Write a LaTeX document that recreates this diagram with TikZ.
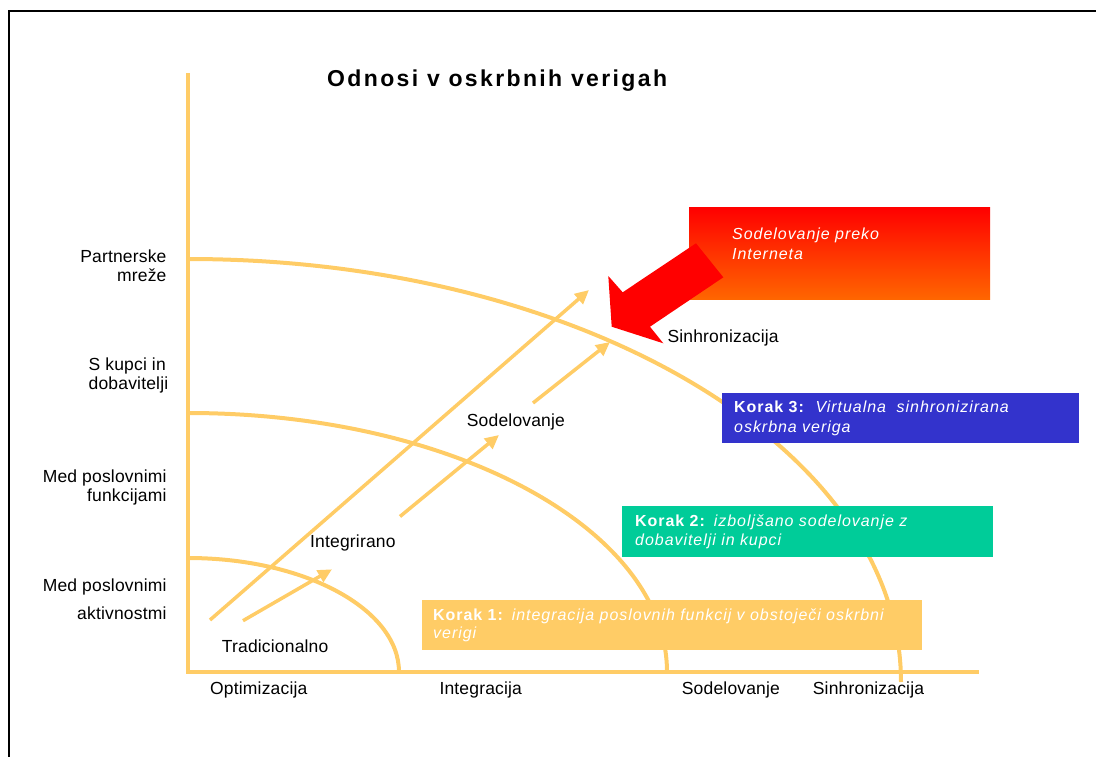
\documentclass[tikz,border=0pt]{standalone}
\usepackage{fontspec}
\setmainfont{Liberation Sans}
\newfontfamily\titlefont[LetterSpace=10.3]{Liberation Sans}
\newfontfamily\labelfont[LetterSpace=1]{Liberation Sans}
\newfontfamily\boxfont[LetterSpace=6]{Liberation Sans}
\usetikzlibrary{arrows.meta}
\definecolor{gold}{RGB}{255,204,102}
\definecolor{stepgreen}{RGB}{0,204,153}
\definecolor{stepblue}{RGB}{51,51,204}
\definecolor{webred}{RGB}{255,0,0}
\definecolor{weborange}{RGB}{255,102,0}

\begin{document}
\begin{tikzpicture}[x=1pt,y=-1pt,
  axis/.style={draw=gold,line width=4.3pt},
  level/.style={draw=gold,line width=4pt},
  growth/.style={draw=gold,line width=3.5pt,-{Triangle[length=14pt,width=13pt]}},
  lbl/.style={font=\labelfont\fontsize{17.5}{19}\selectfont,inner sep=0pt,text=black},
  stepbox/.style={font=\boxfont\fontsize{16}{19}\selectfont,text=white,align=left,
                  anchor=north west,inner ysep=0pt},
]
\useasboundingbox (0,0) rectangle (1096,757);

% page frame
\draw[line width=2.3pt] (9,757) -- (9,11) -- (1096,11);

% title
\node[font=\titlefont\bfseries\fontsize{23}{28}\selectfont,anchor=base west,inner sep=0pt]
  (title) at (327,86.7) {Odnosi v oskrbnih verigah};

% axes
\coordinate (O) at (188,672);
\coordinate (ytop) at (188,73);
\coordinate (xend) at (979,672);
\draw[axis] (ytop) -- (O) -- (xend);

% level curves
\draw[level] (188,558) arc[start angle=90,end angle=0,x radius=211pt,y radius=114pt];
\draw[level] (188,413) arc[start angle=90,end angle=0,x radius=479pt,y radius=259pt];
\draw[level] (188,259) arc[start angle=90,end angle=0,x radius=713pt,y radius=423pt];

% growth arrows
\coordinate (g1s) at (210,620);   \coordinate (g1e) at (589,290);
\coordinate (g2s) at (243,620.7); \coordinate (g2e) at (332,569.3);
\coordinate (g3s) at (400,516.5); \coordinate (g3e) at (499,435);
\coordinate (g4s) at (533,403);   \coordinate (g4e) at (610,342);
\draw[growth] (g1s) -- (g1e);
\draw[growth] (g2s) -- (g2e);
\draw[growth] (g3s) -- (g3e);
\draw[growth] (g4s) -- (g4e);

% y-axis labels
\node[lbl,anchor=north east,align=right] (ypart) at (166.7,249.9) {Partnerske\\mreže};
\node[lbl,anchor=north west,align=left]  (ykup)  at (88.5,357.2) {S kupci in\\dobavitelji};
\node[lbl,anchor=north east,align=right] (yfun)  at (166.7,469.9) {Med poslovnimi\\funkcijami};
\node[lbl,anchor=north east,align=right] (yakt)  at (166.7,578.9) {Med poslovnimi\\[8.6pt]aktivnostmi};

% x-axis labels
\node[lbl,anchor=base west] (xopt) at (210,694)   {Optimizacija};
\node[lbl,anchor=base west] (xint) at (439.3,694) {Integracija};
\node[lbl,anchor=base west] (xsod) at (681.7,694) {Sodelovanje};
\node[lbl,anchor=base west] (xsin) at (812.7,694) {Sinhronizacija};

% stage labels
\node[lbl,anchor=base west] (trad) at (221.7,652.7) {Tradicionalno};
\node[lbl,anchor=base west] (intg) at (310,547)     {Integrirano};
\node[lbl,anchor=base west] (sodl) at (466.7,426)   {Sodelovanje};
\node[lbl,anchor=base west] (sinh) at (667.3,342.7) {Sinhronizacija};

% internet collaboration box and arrow
\node[anchor=north west,minimum width=301pt,minimum height=92pt,inner sep=0pt,
      top color=webred,bottom color=weborange] (web) at (689,207) {};
\node[anchor=north west,inner sep=0pt,align=left,text=white,
      font=\boxfont\itshape\fontsize{16}{20}\selectfont] (webtext) at (732,227.5)
      {Sodelovanje preko\\Interneta};
\fill[webred] (696,243.3) -- (723.3,277.3) -- (650,326.7) -- (663.3,343.3)
  -- (611.7,326.7) -- (608.3,276) -- (622.7,292.3) -- cycle;

% step boxes
\node[stepbox,fill=stepblue,minimum width=357pt,minimum height=50pt,
      text width=333pt,inner xsep=12pt,font=\boxfont\fontsize{16}{20}\selectfont] (k3) at (722,393)
  {\textbf{Korak 3:}\ \ \textit{Virtualna\ \ sinhronizirana}\\\textit{oskrbna veriga}};
\node[stepbox,fill=stepgreen,minimum width=371pt,minimum height=51pt,
      text width=345pt,inner xsep=13pt] (k2) at (622,506)
  {\textbf{Korak 2:} \textit{izboljšano sodelovanje z}\\\textit{dobavitelji in kupci}};
\node[stepbox,fill=gold,minimum width=500pt,minimum height=50pt,
      text width=478pt,inner xsep=11pt,font=\boxfont\fontsize{16}{18.3}\selectfont] (k1) at (422,600)
  {\textbf{Korak 1:} \textit{integracija poslovnih funkcij v obstoječi oskrbni}\\\textit{verigi}};

\end{tikzpicture}
\end{document}
